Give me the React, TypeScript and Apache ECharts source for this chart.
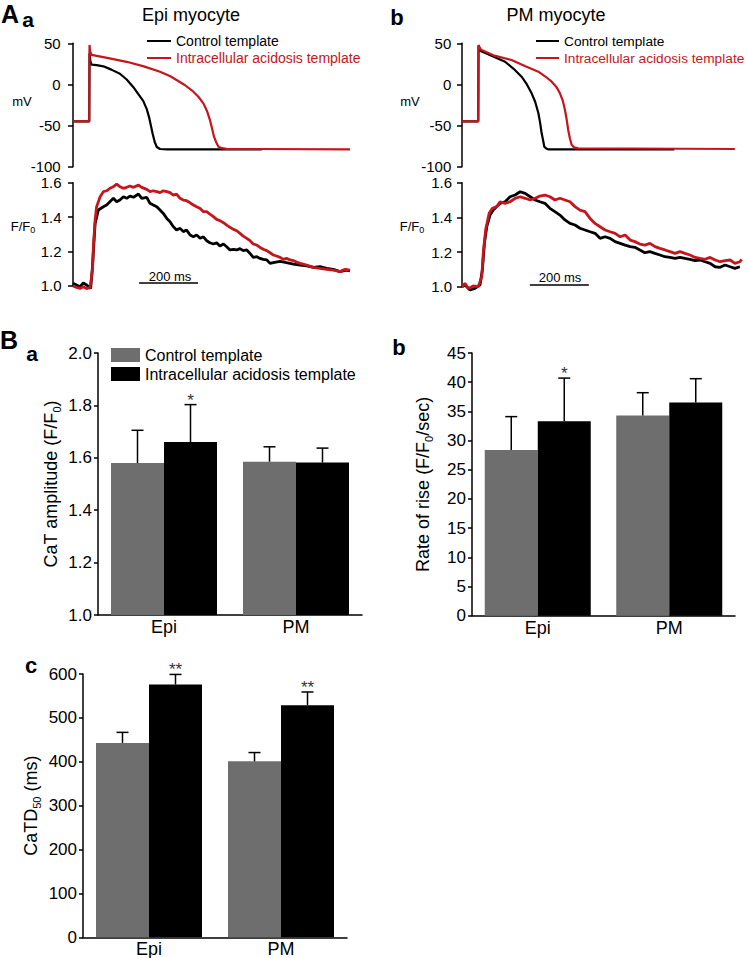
import React, { useEffect, useRef } from 'react';
import * as echarts from 'echarts';

const FONT = '"Liberation Sans", Arial, Helvetica, sans-serif';
const RED = '#c4161c';
const GRAY = '#6e6e6e';
const CTRL = 'Control template';
const ACID = 'Intracellular acidosis template';

// ---- Panel A: action potentials [time ms, mV]
const epiApControl = [[0,-45],[55,-45],[56,38],[59,28],[63,24],[80,23.5],[103,22],[130,18],[159,13],[182,6],[204,-3],[222,-12],[238,-20],[250,-30],[258,-40],[264,-50],[270,-60],[277,-70],[284,-76],[295,-78.5],[320,-79],[640,-79]];
const epiApAcid = [[0,-45],[55,-45],[56,48],[58,40],[63,36],[120,32],[182,27.5],[240,22],[295,15.5],[330,10],[351,5.4],[380,-1],[408,-8.8],[425,-15],[442,-23],[455,-33],[464,-43],[471,-53],[478,-63.5],[485,-70],[493,-75.7],[505,-77.5],[521,-78.3],[939,-79]];
const pmApControl = [[0,-45],[55,-45],[56,47],[62,41],[67,40],[100,35],[146,27.6],[175,19],[202,9.4],[220,0],[236,-10.8],[248,-21],[259,-35],[265,-47],[270,-59.4],[275,-68],[279,-75.7],[286,-78],[293,-79],[720,-79]];
const pmApAcid = [[0,-45],[55,-45],[56,48],[62,43],[67,41.9],[110,35],[168,29.7],[215,22],[259,15.5],[285,9],[304,3.3],[320,-3],[332,-10.8],[342,-20],[349,-31],[355,-43],[360,-55.4],[366,-66],[372,-73.6],[380,-76.5],[394,-77.6],[925,-78.5]];

// ---- Panel A: Ca transients [time ms, F/F0]
const epiCaControl = [[0,1.014],[12,1.004],[24,0.994],[35,1.017],[46,1.004],[60,0.984],[66,1.111],[75,1.363],[86,1.441],[103,1.46],[114,1.47],[125,1.489],[137,1.509],[148,1.489],[159,1.499],[171,1.518],[182,1.509],[193,1.522],[205,1.515],[222,1.534],[233,1.509],[250,1.515],[261,1.48],[272,1.47],[284,1.46],[295,1.441],[306,1.421],[318,1.392],[329,1.373],[340,1.344],[351,1.324],[363,1.334],[374,1.315],[385,1.324],[397,1.295],[408,1.285],[419,1.295],[431,1.276],[442,1.285],[453,1.262],[464,1.25],[476,1.243],[487,1.25],[498,1.231],[510,1.243],[521,1.227],[532,1.208],[544,1.212],[555,1.208],[566,1.216],[577,1.204],[589,1.208],[600,1.188],[611,1.165],[623,1.169],[634,1.159],[645,1.153],[657,1.15],[668,1.13],[679,1.134],[702,1.142],[724,1.134],[747,1.126],[770,1.12],[792,1.115],[815,1.107],[837,1.111],[860,1.101],[883,1.095],[905,1.082],[928,1.091],[939,1.087]];
const epiCaAcid = [[0,0.998],[12,0.99],[24,0.984],[35,0.994],[46,0.983],[58,0.99],[66,1.091],[69,1.227],[75,1.383],[80,1.46],[92,1.518],[103,1.548],[114,1.553],[125,1.567],[137,1.577],[148,1.592],[159,1.577],[171,1.567],[182,1.573],[193,1.581],[205,1.573],[222,1.586],[233,1.573],[250,1.561],[261,1.548],[272,1.553],[284,1.548],[295,1.542],[306,1.553],[318,1.548],[329,1.542],[340,1.528],[351,1.534],[363,1.509],[374,1.499],[385,1.495],[397,1.483],[408,1.47],[419,1.46],[431,1.45],[442,1.431],[453,1.431],[464,1.417],[476,1.402],[487,1.386],[498,1.379],[510,1.367],[521,1.353],[532,1.34],[544,1.328],[555,1.32],[566,1.305],[577,1.289],[589,1.276],[600,1.262],[611,1.243],[623,1.237],[634,1.223],[645,1.212],[657,1.204],[668,1.192],[679,1.179],[690,1.173],[702,1.165],[713,1.153],[724,1.159],[736,1.15],[747,1.146],[758,1.138],[770,1.13],[792,1.12],[815,1.107],[837,1.101],[860,1.095],[883,1.091],[905,1.082],[922,1.095],[939,1.091]];
const pmCaControl = [[0,1.0],[10,1.01],[27,0.981],[44,0.99],[61,1.01],[69,1.096],[76,1.25],[84,1.346],[95,1.413],[106,1.442],[118,1.462],[129,1.481],[146,1.49],[163,1.519],[180,1.529],[197,1.548],[214,1.538],[231,1.519],[248,1.5],[264,1.49],[281,1.481],[298,1.452],[315,1.433],[332,1.413],[349,1.385],[366,1.365],[383,1.356],[400,1.337],[417,1.327],[434,1.317],[451,1.308],[468,1.279],[485,1.288],[502,1.279],[519,1.26],[536,1.25],[553,1.24],[570,1.231],[586,1.227],[603,1.212],[620,1.196],[637,1.202],[654,1.192],[671,1.183],[688,1.173],[705,1.169],[722,1.163],[739,1.169],[756,1.163],[773,1.158],[790,1.15],[807,1.154],[824,1.144],[841,1.135],[858,1.115],[875,1.112],[892,1.125],[909,1.115],[925,1.106],[942,1.115]];
const pmCaAcidTimes = [0,10,22,38,55,67,72,80,92,103,118,129,146,163,180,197,214,231,248,264,281,298,315,332,349,366,383,400,417,434,451,468,485,502,519,536,553,570,586,603,620,637,654,671,688,705,722,739,756,773,790,807,824,841,858,875,892,909,925,942,948];
const pmCaAcidValues = [1.0,1.019,0.99,1.004,1.0,1.058,1.192,1.327,1.423,1.452,1.462,1.49,1.481,1.49,1.51,1.519,1.51,1.5,1.51,1.523,1.529,1.519,1.5,1.51,1.5,1.49,1.462,1.442,1.433,1.394,1.365,1.346,1.327,1.317,1.308,1.288,1.298,1.269,1.26,1.246,1.24,1.25,1.231,1.221,1.212,1.202,1.192,1.202,1.192,1.183,1.169,1.163,1.158,1.169,1.154,1.144,1.15,1.154,1.135,1.144,1.158];
const pmCaAcid = pmCaAcidTimes.map((t, i) => [t, pmCaAcidValues[i]]);

// scale bars (200 ms)
const epiScaleBar = [[224, 1.016], [424, 1.016]];
const pmScaleBar = [[230, 1.01], [430, 1.01]];

// ---- Panel B: bar charts
const bCategories = ['Epi', 'PM'];
const ampControl = [1.58, 1.585];
const ampControlSd = [0.125, 0.057];
const ampAcid = [1.66, 1.582];
const ampAcidSd = [0.143, 0.055];
const ampStars = ['*', ''];

const riseControl = [28.4, 34.3];
const riseControlSd = [5.7, 3.9];
const riseAcid = [33.3, 36.5];
const riseAcidSd = [7.4, 4.1];
const riseStars = ['*', ''];

const durControl = [443, 401];
const durControlSd = [24, 20];
const durAcid = [576, 529];
const durAcidSd = [23, 30];
const durStars = ['**', '**'];

const BAR_W = 53;

function errSeries(xi: number, means: number[], sds: number[], offset: number, stars: string[]) {
  return {
    type: 'custom',
    xAxisIndex: xi,
    yAxisIndex: xi,
    z: 5,
    silent: true,
    data: means.map((m, i) => [i, m, sds[i]]),
    encode: { x: 0, y: 1 },
    renderItem: (params: any, api: any) => {
      const i = api.value(0);
      const m = api.value(1);
      const s = api.value(2);
      const base = api.coord([i, m]);
      const top = api.coord([i, m + s]);
      const x = base[0] + offset;
      const children: any[] = [
        { type: 'line', shape: { x1: x, y1: base[1], x2: x, y2: top[1] }, style: { stroke: '#000', lineWidth: 1.5 } },
        { type: 'line', shape: { x1: x - 6, y1: top[1], x2: x + 6, y2: top[1] }, style: { stroke: '#000', lineWidth: 1.5 } },
      ];
      const star = stars[params.dataIndex];
      if (star) {
        children.push({
          type: 'text', x, y: top[1] + 4,
          style: { text: star, align: 'center', verticalAlign: 'bottom', fontSize: 17, fill: '#333', fontFamily: FONT },
        });
      }
      return { type: 'group', children };
    },
  };
}

function traceX(i: number) {
  return { gridIndex: i, type: 'value', min: 0, max: 950, show: false };
}

function traceY(i: number, min: number, max: number, interval: number, offset: number, dec: number) {
  return {
    gridIndex: i, type: 'value', min, max, interval, offset,
    axisLine: { show: true, lineStyle: { color: '#000', width: 1.5 } },
    axisTick: { show: true, length: 5, lineStyle: { color: '#000', width: 1.5 } },
    axisLabel: { fontSize: 15, color: '#000', fontFamily: FONT, margin: 7, formatter: (v: number) => v.toFixed(dec) },
    splitLine: { show: false },
  };
}

function barX(i: number) {
  return {
    gridIndex: i, type: 'category', data: bCategories,
    axisLine: { show: true, lineStyle: { color: '#000', width: 1.5 } },
    axisTick: { show: false },
    axisLabel: { fontSize: 18, color: '#000', fontFamily: FONT, margin: 3 },
    splitLine: { show: false },
  };
}

function barY(i: number, min: number, max: number, interval: number, dec: number, name: string, gap: number) {
  return {
    gridIndex: i, type: 'value', min, max, interval,
    name, nameLocation: 'middle', nameRotate: 90, nameGap: gap,
    nameTextStyle: {
      fontSize: 18, color: '#000', fontFamily: FONT, lineHeight: 22,
      rich: { s: { fontSize: 11, color: '#000', fontFamily: FONT, verticalAlign: 'bottom', lineHeight: 22 } },
    },
    axisLine: { show: true, lineStyle: { color: '#000', width: 1.5 } },
    axisTick: { show: true, length: 4, lineStyle: { color: '#000', width: 1.5 } },
    axisLabel: { fontSize: 17, color: '#000', fontFamily: FONT, margin: 6, formatter: (v: number) => v.toFixed(dec) },
    splitLine: { show: false },
  };
}

function line(name: string, xi: number, data: number[][], color: string, width: number) {
  return {
    type: 'line', name, xAxisIndex: xi, yAxisIndex: xi, data, symbol: 'none',
    clip: false, silent: true,
    lineStyle: { color, width }, itemStyle: { color },
  };
}

function bar(name: string, xi: number, data: number[], color: string) {
  return {
    type: 'bar', name, xAxisIndex: xi, yAxisIndex: xi, data, barWidth: BAR_W, barGap: '0%',
    itemStyle: { color }, silent: true,
  };
}

function txt(x: number, y: number, text: string, size: number, bold = false, extra: any = {}) {
  return {
    type: 'text', x, y,
    style: {
      text, fontSize: size, fontWeight: bold ? 'bold' : 'normal', fontFamily: FONT, fill: '#000',
      align: 'center', verticalAlign: 'middle', ...extra,
    },
  };
}

const ffRich = { rich: { s: { fontSize: 9, fontFamily: FONT, fill: '#000', verticalAlign: 'bottom', lineHeight: 16 } }, lineHeight: 16 };

export default function App() {
  const ref = useRef<HTMLDivElement>(null);
  useEffect(() => {
    if (!ref.current) return;
    const chart = echarts.init(ref.current, undefined, { renderer: 'svg' });
    const lineLegend = (left: number, w: number, fs: number) => ({
      orient: 'vertical', left, top: 34, padding: 0, itemWidth: w, itemHeight: 2, itemGap: 3,
      selectedMode: false,
      textStyle: { fontSize: fs, lineHeight: 14, color: '#000', fontFamily: FONT },
      data: [
        { name: CTRL, icon: 'rect', itemStyle: { color: '#000', borderWidth: 0 } },
        { name: ACID, icon: 'rect', itemStyle: { color: RED, borderWidth: 0 }, textStyle: { color: RED } },
      ],
    });
    chart.setOption({
      animation: false,
      backgroundColor: '#fff',
      grid: [
        { left: 73, top: 43.3, width: 280.25, height: 123.4, outerBoundsMode: 'none' },
        { left: 73, top: 182.7, width: 280.25, height: 103, outerBoundsMode: 'none' },
        { left: 462, top: 43.3, width: 280.25, height: 123.4, outerBoundsMode: 'none' },
        { left: 462, top: 182.7, width: 280.25, height: 104, outerBoundsMode: 'none' },
        { left: 98, top: 353, width: 264, height: 262, outerBoundsMode: 'none' },
        { left: 472, top: 353, width: 263, height: 262.7, outerBoundsMode: 'none' },
        { left: 83, top: 674, width: 264, height: 263.3, outerBoundsMode: 'none' },
      ],
      xAxis: [traceX(0), traceX(1), traceX(2), traceX(3), barX(4), barX(5), barX(6)],
      yAxis: [
        traceY(0, -100, 50, 50, 5.3, 0),
        traceY(1, 1.0, 1.6, 0.2, 4.5, 1),
        traceY(2, -100, 50, 50, 3.7, 0),
        traceY(3, 1.0, 1.6, 0.2, 3, 1),
        barY(4, 1.0, 2.0, 0.2, 1, 'CaT amplitude (F/F{s|0})', 36),
        barY(5, 0, 45, 5, 0, 'Rate of rise (F/F{s|0}/sec)', 38),
        barY(6, 0, 600, 100, 0, 'CaTD{s|50} (ms)', 41),
      ],
      legend: [
        lineLegend(147, 24, 14),
        lineLegend(536, 23, 13.7),
        {
          orient: 'vertical', left: 111, top: 347, padding: 0, itemWidth: 29, itemHeight: 14, itemGap: 3,
          selectedMode: false,
          textStyle: { fontSize: 16, lineHeight: 16, color: '#000', fontFamily: FONT },
          data: [
            { name: CTRL, icon: 'rect', itemStyle: { color: GRAY, borderWidth: 0 } },
            { name: ACID, icon: 'rect', itemStyle: { color: '#000', borderWidth: 0 } },
          ],
        },
      ],
      series: [
        line(CTRL, 0, epiApControl, '#000', 2.2),
        line(ACID, 0, epiApAcid, RED, 2.2),
        line(CTRL, 2, pmApControl, '#000', 2.2),
        line(ACID, 2, pmApAcid, RED, 2.2),
        line(CTRL, 1, epiCaControl, '#000', 2.8),
        line(ACID, 1, epiCaAcid, RED, 2.8),
        line(CTRL, 3, pmCaControl, '#000', 2.8),
        line(ACID, 3, pmCaAcid, RED, 2.8),
        line('200 ms scale', 1, epiScaleBar, '#000', 1.5),
        line('200 ms scale ', 3, pmScaleBar, '#000', 1.5),
        bar(CTRL, 4, ampControl, GRAY),
        bar(ACID, 4, ampAcid, '#000'),
        bar(CTRL, 5, riseControl, GRAY),
        bar(ACID, 5, riseAcid, '#000'),
        bar(CTRL, 6, durControl, GRAY),
        bar(ACID, 6, durAcid, '#000'),
        errSeries(4, ampControl, ampControlSd, -BAR_W / 2, ['', '']),
        errSeries(4, ampAcid, ampAcidSd, BAR_W / 2, ampStars),
        errSeries(5, riseControl, riseControlSd, -BAR_W / 2, ['', '']),
        errSeries(5, riseAcid, riseAcidSd, BAR_W / 2, riseStars),
        errSeries(6, durControl, durControlSd, -BAR_W / 2, ['', '']),
        errSeries(6, durAcid, durAcidSd, BAR_W / 2, durStars),
      ],
      graphic: [
        txt(10, 13.5, 'A', 25, true),
        txt(28, 19, 'a', 21, true),
        txt(191, 15, 'Epi myocyte', 18),
        txt(397, 17, 'b', 22, true),
        txt(556, 15, 'PM myocyte', 18),
        txt(22, 101, 'mV', 13),
        txt(410, 101, 'mV', 13),
        txt(23, 226, 'F/F{s|0}', 13, false, ffRich),
        txt(412, 226, 'F/F{s|0}', 13, false, ffRich),
        txt(170, 276, '200 ms', 13),
        txt(560, 277, '200 ms', 13),
        txt(9, 340, 'B', 25, true),
        txt(32, 353, 'a', 21, true),
        txt(399, 347, 'b', 22, true),
        txt(31, 665, 'c', 22, true),
      ],
    });
    return () => chart.dispose();
  }, []);
  return <div ref={ref} style={{ position: 'absolute', left: 0, top: 0, width: 748, height: 958, background: '#fff' }} />;
}
